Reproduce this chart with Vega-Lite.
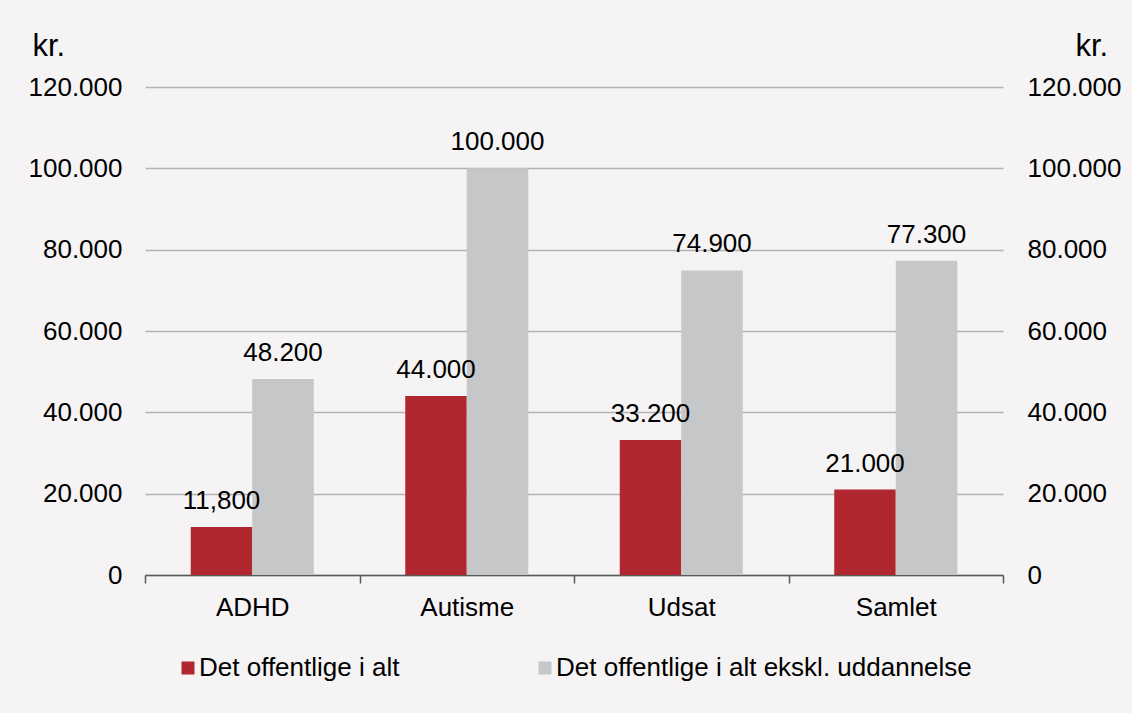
{
  "$schema": "https://vega.github.io/schema/vega-lite/v6.json",
  "autosize": "none",
  "width": 858,
  "height": 488,
  "padding": {"left": 145, "top": 87, "right": 129, "bottom": 138},
  "background": "#f5f3f4",
  "config": {
    "view": {"stroke": null},
    "font": "Liberation Sans",
    "axis": {"labelFont": "Liberation Sans", "labelColor": "#000000", "titleFont": "Liberation Sans", "titleColor": "#000000", "titleFontWeight": "normal"},
    "legend": {"labelFont": "Liberation Sans", "labelColor": "#000000"}
  },
  "data": {
    "values": [
      {"kategori": "ADHD", "serie": "Det offentlige i alt", "vaerdi": 11800, "etiket": "11,800"},
      {"kategori": "ADHD", "serie": "Det offentlige i alt ekskl. uddannelse", "vaerdi": 48200, "etiket": "48.200"},
      {"kategori": "Autisme", "serie": "Det offentlige i alt", "vaerdi": 44000, "etiket": "44.000"},
      {"kategori": "Autisme", "serie": "Det offentlige i alt ekskl. uddannelse", "vaerdi": 100000, "etiket": "100.000"},
      {"kategori": "Udsat", "serie": "Det offentlige i alt", "vaerdi": 33200, "etiket": "33.200"},
      {"kategori": "Udsat", "serie": "Det offentlige i alt ekskl. uddannelse", "vaerdi": 74900, "etiket": "74.900"},
      {"kategori": "Samlet", "serie": "Det offentlige i alt", "vaerdi": 21000, "etiket": "21.000"},
      {"kategori": "Samlet", "serie": "Det offentlige i alt ekskl. uddannelse", "vaerdi": 77300, "etiket": "77.300"}
    ]
  },
  "encoding": {
    "x": {
      "field": "kategori", "type": "nominal", "sort": ["ADHD", "Autisme", "Udsat", "Samlet"],
      "scale": {"paddingInner": 0, "paddingOuter": 0},
      "axis": {"title": null, "labelAngle": 0, "labelFontSize": 26, "tickBand": "extent", "tickSize": 8, "tickColor": "#595959", "tickWidth": 1.5, "domainColor": "#595959", "domainWidth": 1.5, "labelPadding": 11, "grid": false}
    },
    "xOffset": {"field": "serie", "type": "nominal", "scale": {"paddingInner": 0, "paddingOuter": 0.744}},
    "y": {"field": "vaerdi", "type": "quantitative", "scale": {"domain": [0, 120000], "nice": false}}
  },
  "layer": [
    {
      "mark": {"type": "bar"},
      "encoding": {
        "y": {
          "field": "vaerdi", "type": "quantitative",
          "axis": {"orient": "left", "title": "kr.", "titleAngle": 0, "titleAlign": "left", "titleBaseline": "alphabetic", "titleX": -113, "titleY": -32, "titleFontSize": 31, "values": [0, 20000, 40000, 60000, 80000, 100000, 120000], "labelExpr": "replace(format(datum.value, ','), ',', '.')", "labelFontSize": 26, "labelPadding": 23, "ticks": false, "domain": false, "grid": true, "gridColor": "#b3b3b3", "gridWidth": 1.5}
        },
        "color": {
          "field": "serie", "type": "nominal",
          "scale": {"domain": ["Det offentlige i alt", "Det offentlige i alt ekskl. uddannelse"], "range": ["#b0272f", "#c6c7c9"]},
          "legend": {"title": null, "orient": "none", "direction": "horizontal", "legendX": 30, "legendY": 568, "padding": 0, "symbolType": "square", "symbolSize": 169, "symbolStrokeWidth": 0, "labelFontSize": 26, "labelOffset": -2, "labelLimit": 0, "columnPadding": 132}
        }
      }
    },
    {
      "mark": {"type": "text", "baseline": "middle", "align": "center", "dy": -26, "fontSize": 26, "color": "#000000"},
      "encoding": {
        "text": {"field": "etiket"},
        "y": {
          "field": "vaerdi", "type": "quantitative",
          "axis": {"orient": "right", "title": "kr.", "titleAngle": 0, "titleAlign": "left", "titleBaseline": "alphabetic", "titleX": 72, "titleY": -32, "titleFontSize": 31, "values": [0, 20000, 40000, 60000, 80000, 100000, 120000], "labelExpr": "replace(format(datum.value, ','), ',', '.')", "labelFontSize": 26, "labelPadding": 24, "ticks": false, "domain": false, "grid": false}
        }
      }
    }
  ],
  "resolve": {"axis": {"y": "independent"}}
}
